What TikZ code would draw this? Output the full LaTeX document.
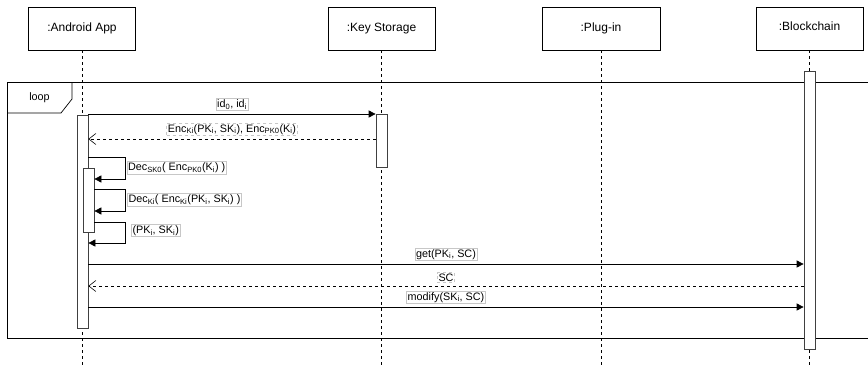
\documentclass[tikz,border=0pt]{standalone}
\usepackage{fontspec}
\setmainfont{Liberation Sans}
\usetikzlibrary{arrows.meta}
\usetikzlibrary{positioning}

\begin{document}
\begin{tikzpicture}[
        x=1pt, y=-1pt,
        head/.style={rectangle, draw, line width=0.7pt, minimum height=43pt, inner sep=0pt, font=\fontsize{12}{14}\selectfont},
        life/.style={dash pattern=on 3pt off 3pt, line width=0.6pt},
        activ/.style={rectangle, draw=black!75, fill=white, minimum width=11pt, inner sep=0pt, line width=0.7pt},
        lbl/.style={draw=black!22, fill=white, inner sep=1.2pt, font=\fontsize{10.8}{12}\selectfont},
        call/.style={-{Triangle[length=7pt,width=7pt]}, line width=0.7pt},
        reply/.style={-{Straight Barb[length=7pt,width=11pt]}, dash pattern=on 3pt off 3pt, line width=0.6pt},
    ]
    \useasboundingbox (0,0) rectangle (868,367);
    \coordinate (bottom) at (0,367);

    \node[head, minimum width=107pt] (app) at (82,28.5) {:Android App};
    \node[head, minimum width=107pt] (keys) at (381.5,28.5) {:Key Storage};
    \node[head, minimum width=118pt] (plug) at (601,28.5) {:Plug-in};
    \node[head, minimum width=107pt] (chain) at (809.5,28.5) {\raisebox{5pt}{:Blockchain}};
    \foreach \n in {app,keys,plug,chain}
        \draw[life] (\n.south) -- (\n.south |- bottom);

    \draw[line width=0.7pt] (868,82) -- (7,82) -- (7,338) -- (868,338);
    \draw[line width=0.7pt] (7,113) -- (61,113) -- (72,99) -- (72,82);
    \node[font=\fontsize{10.8}{12}\selectfont] (looptag) at (39.5,97.5) {loop};

    \node[activ, minimum height=213pt] (appA) at (82.5,221.5) {};
    \node[activ, minimum height=53pt] (keysA) at (381.5,140.5) {};
    \node[activ, minimum height=278pt] (chainA) at (809.5,210) {};
    \node[activ, minimum height=64pt] (appB) at (88.5,200) {};

    \coordinate (m1) at (0,114);
    \coordinate (m2) at (0,139);
    \coordinate (m3) at (0,264);
    \coordinate (m4) at (0,286);
    \coordinate (m5) at (0,307);
    \draw[call] (appA.east |- m1) -- node[lbl, above=3pt] {id\textsubscript{0}, id\textsubscript{i}} (keysA.west |- m1);
    \draw[reply] (keysA.west |- m2) -- node[lbl, above=3pt] {Enc\textsubscript{Ki}(PK\textsubscript{i}, SK\textsubscript{i}), Enc\textsubscript{PK0}(K\textsubscript{i})} (appA.east |- m2);

    \coordinate (s1) at (125,157);
    \coordinate (s1r) at (125,179);
    \coordinate (s2) at (125,189);
    \coordinate (s2r) at (125,211);
    \coordinate (s3) at (125,222);
    \coordinate (s3r) at (125,243);
    \draw[call] (appA.east |- s1) -- (s1) -- node[lbl, right=1.5pt] {Dec\textsubscript{SK0}( Enc\textsubscript{PK0}(K\textsubscript{i}) )} (s1r) -- (appB.east |- s1r);
    \draw[call] (appB.east |- s2) -- (s2) -- node[lbl, right=2pt] {Dec\textsubscript{Ki}( Enc\textsubscript{Ki}(PK\textsubscript{i}, SK\textsubscript{i}) )} (s2r) -- (appB.east |- s2r);
    \draw[call] (appB.east |- s3) -- (s3) -- node[lbl, right=6pt, yshift=2pt] {(PK\textsubscript{i}, SK\textsubscript{i})} (s3r) -- (appA.east |- s3r);

    \draw[call] (appA.east |- m3) -- node[lbl, above=3pt] {get(PK\textsubscript{i}, SC)} (chainA.west |- m3);
    \draw[reply] (chainA.west |- m4) -- node[lbl, above=3pt] {SC} (appA.east |- m4);
    \draw[call] (appA.east |- m5) -- node[lbl, above=3pt] {modify(SK\textsubscript{i}, SC)} (chainA.west |- m5);
\end{tikzpicture}
\end{document}
